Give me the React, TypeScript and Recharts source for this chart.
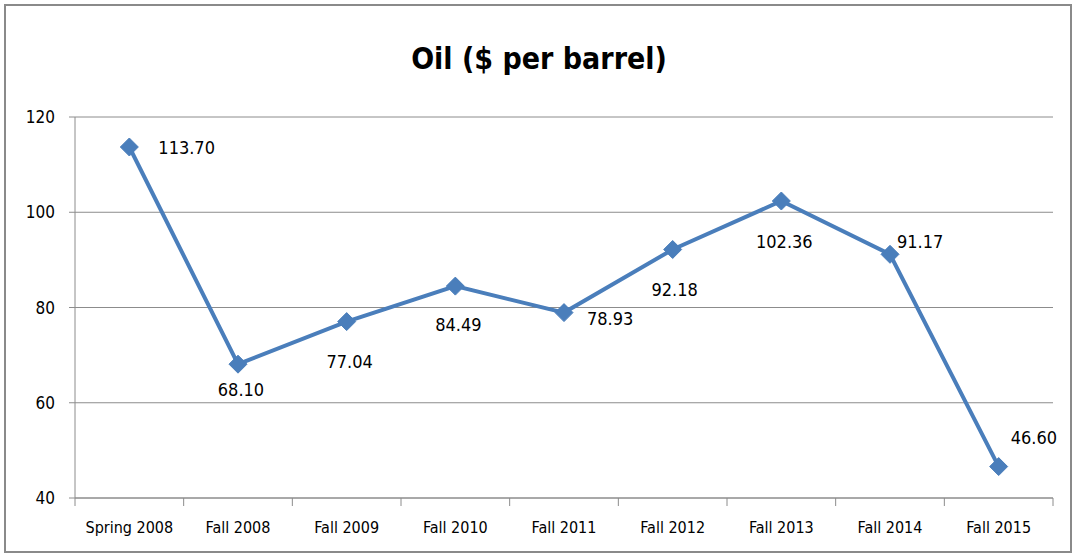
import { CartesianGrid, Line, LineChart, XAxis, YAxis } from "recharts";

const periods = [
  "Spring 2008",
  "Fall 2008",
  "Fall 2009",
  "Fall 2010",
  "Fall 2011",
  "Fall 2012",
  "Fall 2013",
  "Fall 2014",
  "Fall 2015",
];
const oilPrices = [113.7, 68.1, 77.04, 84.49, 78.93, 92.18, 102.36, 91.17, 46.6];
const yTicks = [40, 60, 80, 100, 120];

// where each value label sits relative to its marker
const labelOffsets = [
  { dx: 29, dy: 0, anchor: "start" },
  { dx: 3, dy: 25, anchor: "middle" },
  { dx: 3, dy: 40, anchor: "middle" },
  { dx: 3, dy: 38, anchor: "middle" },
  { dx: 23, dy: 6, anchor: "start" },
  { dx: 2, dy: 40, anchor: "middle" },
  { dx: 3, dy: 40, anchor: "middle" },
  { dx: 7, dy: -13, anchor: "start" },
  { dx: 12, dy: -29, anchor: "start" },
];

const data = periods.map((period, i) => ({ period, price: oilPrices[i] }));

const FONT = "'DejaVu Sans Condensed', 'Liberation Sans', sans-serif";
const BLUE = "#4a7ebb";
const GRID = "#8c8c8c";
const W = 1078;
const H = 559;
const LEFT = 75;
const RIGHT = 25;
const BAND = (W - LEFT - RIGHT) / periods.length;

function Diamond(props: any) {
  const { cx, cy } = props;
  if (cx == null || cy == null) return null;
  const r = 9;
  return (
    <path
      d={`M${cx},${cy - r}L${cx + r},${cy}L${cx},${cy + r}L${cx - r},${cy}Z`}
      fill={BLUE}
      stroke={BLUE}
    />
  );
}

function ValueLabel(props: any) {
  const { x, y, value, index } = props;
  const o = labelOffsets[index];
  return (
    <text
      x={x + o.dx}
      y={y + o.dy}
      textAnchor={o.anchor}
      dominantBaseline="central"
      fontFamily={FONT}
      fontSize={18}
      fill="#000"
    >
      {Number(value).toFixed(2)}
    </text>
  );
}

function PeriodTick(props: any) {
  const { x, y, payload, index } = props;
  const left = x - BAND / 2;
  return (
    <g>
      <line x1={left} y1={y - 8} x2={left} y2={y} stroke={GRID} />
      {index === periods.length - 1 && (
        <line x1={x + BAND / 2} y1={y - 8} x2={x + BAND / 2} y2={y} stroke={GRID} />
      )}
      <text
        x={x}
        y={y + 21}
        textAnchor="middle"
        dominantBaseline="central"
        fontFamily={FONT}
        fontSize={16}
        fill="#000"
      >
        {payload.value}
      </text>
    </g>
  );
}

export default function App() {
  return (
    <div
      style={{
        position: "absolute",
        left: 0,
        top: 0,
        width: W,
        height: H,
        background: "#fff",
      }}
    >
      <div
        style={{
          position: "absolute",
          left: 4,
          top: 4,
          width: W - 10,
          height: H - 10,
          border: "2px solid #8a8a8a",
          boxSizing: "border-box",
        }}
      />
      <div
        style={{
          position: "absolute",
          left: 0,
          top: 36,
          width: W,
          textAlign: "center",
          fontFamily: FONT,
          fontWeight: "bold",
          fontSize: 30,
          lineHeight: "46px",
          color: "#000",
        }}
      >
        Oil ($ per barrel)
      </div>
      <LineChart
        width={W}
        height={H}
        data={data}
        margin={{ top: 117, right: RIGHT, bottom: 21, left: 0 }}
        style={{ position: "absolute", left: 0, top: 0 }}
      >
        <CartesianGrid horizontal vertical={false} stroke={GRID} />
        <XAxis
          dataKey="period"
          padding={{ left: BAND / 2, right: BAND / 2 }}
          height={40}
          stroke={GRID}
          tickLine={false}
          tick={<PeriodTick />}
          interval={0}
        />
        <YAxis
          domain={[40, 120]}
          ticks={yTicks}
          width={LEFT}
          stroke={GRID}
          tickSize={6}
          tick={{ fill: "#000", fontSize: 17, fontFamily: FONT }}
          tickMargin={14}
        />
        <Line
          dataKey="price"
          stroke={BLUE}
          strokeWidth={4}
          dot={<Diamond />}
          activeDot={false}
          isAnimationActive={false}
          label={<ValueLabel />}
        />
      </LineChart>
    </div>
  );
}
